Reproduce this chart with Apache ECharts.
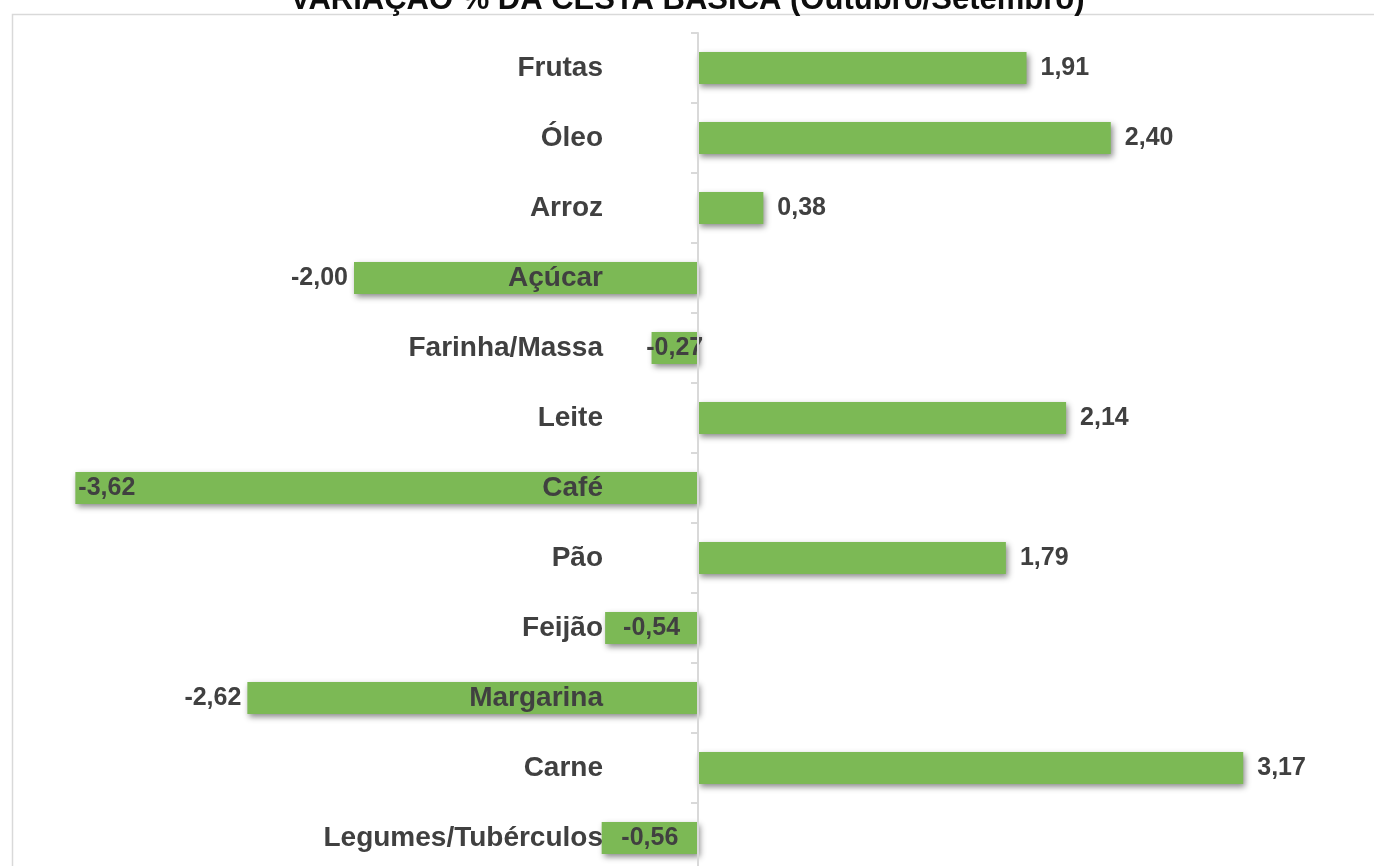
<!DOCTYPE html>
<html>
<head>
<meta charset="utf-8">
<script src="https://cdn.jsdelivr.net/npm/echarts@6/dist/echarts.min.js"></script>
<style>
  html, body { margin: 0; padding: 0; background: #fff; }
  #chart { width: 1374px; height: 866px; }
</style>
</head>
<body>
<div id="chart"></div>
<script>
const categories = [
  "Frutas", "Óleo", "Arroz", "Açúcar", "Farinha/Massa", "Leite",
  "Café", "Pão", "Feijão", "Margarina", "Carne", "Legumes/Tubérculos"
];
const values = [1.91, 2.40, 0.38, -2.00, -0.27, 2.14, -3.62, 1.79, -0.54, -2.62, 3.17, -0.56];

// where excel put the labels of the negative bars
const negLabelPlace = {
  "Açúcar": "left",
  "Farinha/Massa": "inside",
  "Café": "insideLeft",
  "Feijão": "inside",
  "Margarina": "left",
  "Legumes/Tubérculos": "inside"
};

const textColor = "#404040";
const fmt = v => v.toFixed(2).replace(".", ",");

const gridLeft = 10;
const gridWidth = 1376;
const xMin = -4, xMax = 4;
// shift the category axis from the grid edge onto the zero line
const zeroShift = gridWidth * (0 - xMin) / (xMax - xMin);

const chart = echarts.init(document.getElementById("chart"));

const barData = values.map((v, i) => {
  let pos = v >= 0 ? "right" : negLabelPlace[categories[i]];
  let dist = 14;
  if (pos === "left") dist = 6;
  if (pos === "insideLeft") dist = 3;
  return {
    value: v,
    label: { position: pos, distance: dist }
  };
});

chart.setOption({
  animation: false,
  title: {
    text: "VARIAÇÃO % DA CESTA BÁSICA (Outubro/Setembro)",
    left: 290,
    top: -15,
    padding: 0,
    textStyle: {
      fontFamily: "Liberation Sans, Arial",
      fontSize: 31,
      fontWeight: "bold",
      color: "#0d0d0d"
    }
  },
  graphic: [
    {
      type: "rect",
      left: 10,
      top: 12,
      shape: { width: 1400, height: 900 },
      style: { fill: null, stroke: "#d9d9d9", lineWidth: 1.5 },
      z: -1
    }
  ],
  grid: {
    left: gridLeft, top: 33, width: gridWidth, height: 840,
    outerBoundsMode: "none", containLabel: false
  },
  xAxis: {
    type: "value",
    min: xMin,
    max: xMax,
    show: false
  },
  yAxis: {
    type: "category",
    data: categories,
    inverse: true,
    z: 10,
    offset: -zeroShift,
    axisLine: { show: true, onZero: false, lineStyle: { color: "#d9d9d9", width: 2 } },
    axisTick: { show: true, length: 7, lineStyle: { color: "#d9d9d9", width: 2 } },
    axisLabel: {
      margin: 95,
      fontFamily: "Liberation Sans, Arial",
      fontSize: 28,
      fontWeight: "bold",
      color: textColor
    },
    splitLine: { show: false }
  },
  series: [
    {
      type: "bar",
      data: barData,
      barWidth: 32,
      itemStyle: {
        color: "#7cb955",
        shadowColor: "rgba(0,0,0,0.45)",
        shadowBlur: 6,
        shadowOffsetX: 2,
        shadowOffsetY: 3
      },
      label: {
        show: true,
        formatter: p => fmt(p.value),
        fontFamily: "Liberation Sans, Arial",
        fontSize: 25,
        fontWeight: "bold",
        color: textColor
      },
      z: 2
    }
  ]
});
</script>
</body>
</html>
